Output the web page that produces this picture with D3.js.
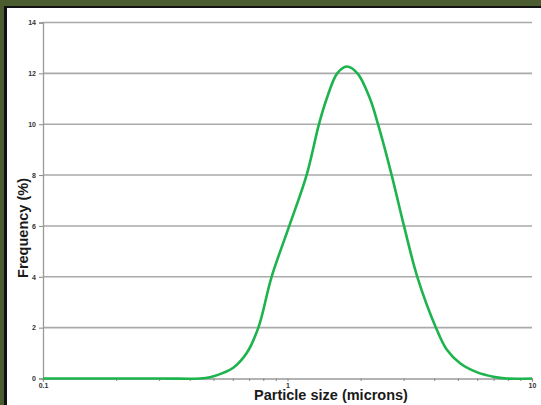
<!DOCTYPE html>
<html><head><meta charset="utf-8">
<script src="https://cdn.jsdelivr.net/npm/d3@7"></script>
<style>html,body{margin:0;padding:0;background:#fff;}svg{display:block;}</style>
</head><body>
<svg id="c" width="541" height="405"></svg>
<script>
// Data
const sizes = [0.1, 0.3, 0.439, 0.482, 0.546, 0.600, 0.681, 0.760, 0.861, 1.017, 1.197, 1.345, 1.446, 1.597, 1.747, 1.933, 2.175, 2.345, 2.667, 2.995, 3.395, 4.047, 4.478, 5.08, 5.94, 6.95, 7.88, 10];
const freq  = [0,   0,   0,     0.05,  0.22,  0.42,  1.0,   2.0,   4.0,   6.0,   8.0,   10.0,  11.0,  12.0,  12.27, 12.0,  11.0,  10.0,  8.0,   6.0,   4.0,   2.0,   1.14,  0.6,  0.25, 0.07, 0,    0];
const yTicks = [0, 2, 4, 6, 8, 10, 12, 14];
const xTicks = [0.1, 1, 10];
const xTickLabels = ["0.1", "1", "10"];
const xMinor = [0.2,0.3,0.4,0.5,0.6,0.7,0.8,0.9,2,3,4,5,6,7,8,9];

const svg = d3.select("#c");
// frame
svg.append("rect").attr("x",0).attr("y",0).attr("width",541).attr("height",405).attr("fill","#4b5c31");
svg.append("rect").attr("x",4).attr("y",6).attr("width",541).attr("height",405).attr("fill","#111");
svg.append("rect").attr("x",7).attr("y",8).attr("width",541).attr("height",405).attr("fill","#fff");

const L = 43, R = 532, T = 22.5, B = 378.5;
const x = d3.scaleLog().domain([0.1, 10]).range([L, R]);
const y = d3.scaleLinear().domain([0, 14]).range([B, T]);

// gridlines
svg.append("g").selectAll("line").data(yTicks.filter(d => d > 0)).join("line")
  .attr("x1", L).attr("x2", R).attr("y1", d => y(d)).attr("y2", d => y(d))
  .attr("stroke", "#a9a9a9").attr("stroke-width", 1.6);

// y axis
const ya = svg.append("g").attr("transform", `translate(${L},0)`)
  .call(d3.axisLeft(y).tickValues(yTicks).tickSize(4).tickPadding(3).tickFormat(d3.format("d")));
ya.select(".domain").attr("stroke", "#9a9a9a").attr("stroke-width", 1.3);
ya.selectAll(".tick line").attr("stroke", "#888");
ya.selectAll("text").attr("font-family", "Liberation Sans, Arial, sans-serif").attr("font-size", 7).attr("font-weight", "bold").attr("fill", "#333");

// x axis
const xa = svg.append("g").attr("transform", `translate(0,${B})`)
  .call(d3.axisBottom(x).tickValues(xTicks).tickSize(3).tickPadding(2).tickFormat((d, i) => xTickLabels[i]));
xa.select(".domain").attr("stroke", "#9a9a9a").attr("stroke-width", 1.3);
xa.selectAll(".tick line").attr("stroke", "#888");
xa.selectAll("text").attr("font-family", "Liberation Sans, Arial, sans-serif").attr("font-size", 7).attr("font-weight", "bold").attr("fill", "#333");
svg.append("g").selectAll("line").data(xMinor).join("line")
  .attr("x1", d => x(d)).attr("x2", d => x(d)).attr("y1", B).attr("y2", B + 2.5)
  .attr("stroke", "#888").attr("stroke-width", 1);

// curve
const pts = sizes.map((s, i) => [x(s), y(freq[i])]);
svg.append("path").datum(pts)
  .attr("d", d3.line().curve(d3.curveCatmullRom.alpha(0.5)))
  .attr("fill", "none").attr("stroke", "#1db34d").attr("stroke-width", 2.6)
  .attr("stroke-linejoin", "round");

// titles
svg.append("text").attr("x", 331).attr("y", 400).attr("text-anchor", "middle")
  .attr("font-family", "Liberation Sans, Arial, sans-serif").attr("font-size", 14.5).attr("font-weight", "bold")
  .attr("fill", "#1a1a1a").text("Particle size (microns)");
svg.append("text").attr("transform", "translate(28,228) rotate(-90)").attr("text-anchor", "middle")
  .attr("font-family", "Liberation Sans, Arial, sans-serif").attr("font-size", 14.5).attr("font-weight", "bold")
  .attr("fill", "#1a1a1a").text("Frequency (%)");
</script>
</body></html>
